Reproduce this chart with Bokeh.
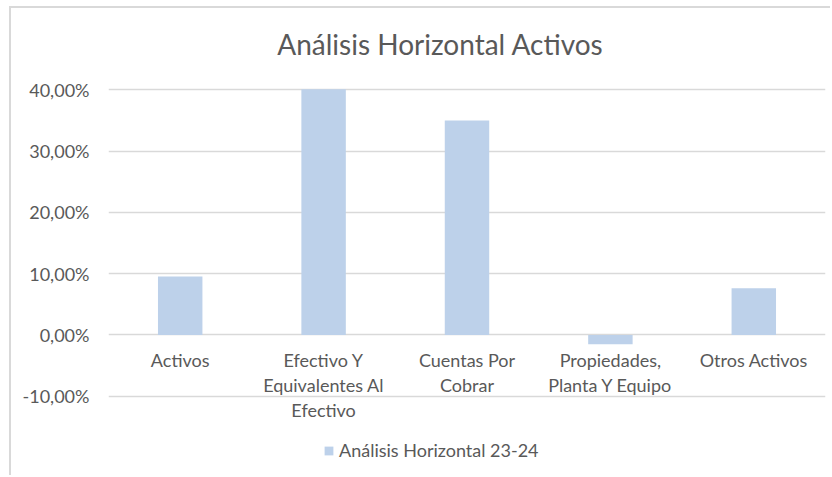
from bokeh.plotting import figure
from bokeh.models import FactorRange, Range1d, FixedTicker, ColumnDataSource
from bokeh.core.properties import value
from bokeh.embed import file_html
from bokeh.resources import INLINE

# ---- data ----
categories = ["Activos", "Efectivo Y Equivalentes Al Efectivo", "Cuentas Por Cobrar",
              "Propiedades, Planta Y Equipo", "Otros Activos"]
category_labels = ["Activos", "Efectivo Y\nEquivalentes Al\nEfectivo", "Cuentas Por\nCobrar",
                   "Propiedades,\nPlanta Y Equipo", "Otros Activos"]
values = [9.56, 40.1, 35.0, -1.52, 7.63]
tick_values = [-10, 0, 10, 20, 30, 40]
tick_labels = ["-10,00%", "0,00%", "10,00%", "20,00%", "30,00%", "40,00%"]
title_text = "Análisis Horizontal Activos"
series_name = "Análisis Horizontal 23-24"

# ---- styling ----
FONT = "Lato"
TEXT_COLOR = "#595959"
BAR_COLOR = "#BDD1EA"
GRID_COLOR = "#D9D9D9"

W, H = 821, 469
p = figure(width=W, height=H, output_backend="svg", toolbar_location=None,
           x_range=FactorRange(*categories), y_range=Range1d(-23.25, 53.26),
           x_axis_location=None, title=None,
           min_border_left=97, min_border_right=7, min_border_top=0, min_border_bottom=0)
p.styles = {"margin-left": "9px", "margin-top": "6px",
            "border-left": "2px solid #D9D9D9", "border-top": "2px solid #D9D9D9"}
p.outline_line_color = None
p.background_fill_color = "white"
p.border_fill_color = "white"

# y axis
ax = p.yaxis[0]
ax.ticker = FixedTicker(ticks=tick_values)
ax.major_label_overrides = {t: lab for t, lab in zip(tick_values, tick_labels)}
ax.axis_line_color = None
ax.major_tick_line_color = None
ax.minor_tick_line_color = None
ax.major_tick_in = 0
ax.major_tick_out = 0
ax.major_label_standoff = 19
ax.major_label_text_font = FONT
ax.major_label_text_font_size = "18px"
ax.major_label_text_color = TEXT_COLOR

p.xgrid.visible = False
p.ygrid.ticker = FixedTicker(ticks=tick_values)
p.ygrid.grid_line_color = GRID_COLOR
p.ygrid.grid_line_width = 1.5

src = ColumnDataSource(dict(x=categories, top=values))
p.vbar(x="x", top="top", width=0.31, source=src, fill_color=BAR_COLOR,
       line_color=None, legend_label=series_name)

# category labels below the zero line
lab_src = ColumnDataSource(dict(x=categories, y=[0] * len(categories), text=category_labels))
p.text(x="x", y="y", text="text", source=lab_src, text_align="center", text_baseline="top",
       y_offset=14.5, text_font=value(FONT), text_font_size="18px", text_color=TEXT_COLOR,
       text_line_height=1.12)

# chart title
p.text(x=[2.315], y=[47.55], text=[title_text], text_align="center", text_baseline="middle",
       text_font=value(FONT), text_font_size="28px", text_color=TEXT_COLOR)

# legend
lg = p.legend[0]
lg.location = (215, 16)
lg.orientation = "horizontal"
lg.border_line_color = None
lg.background_fill_alpha = 0
lg.padding = 0
lg.margin = 0
lg.glyph_width = 11
lg.glyph_height = 11
lg.label_standoff = 5
lg.label_height = 20
lg.label_text_font = FONT
lg.label_text_font_size = "18px"
lg.label_text_color = TEXT_COLOR

open("out.html", "w").write(file_html(p, INLINE))
